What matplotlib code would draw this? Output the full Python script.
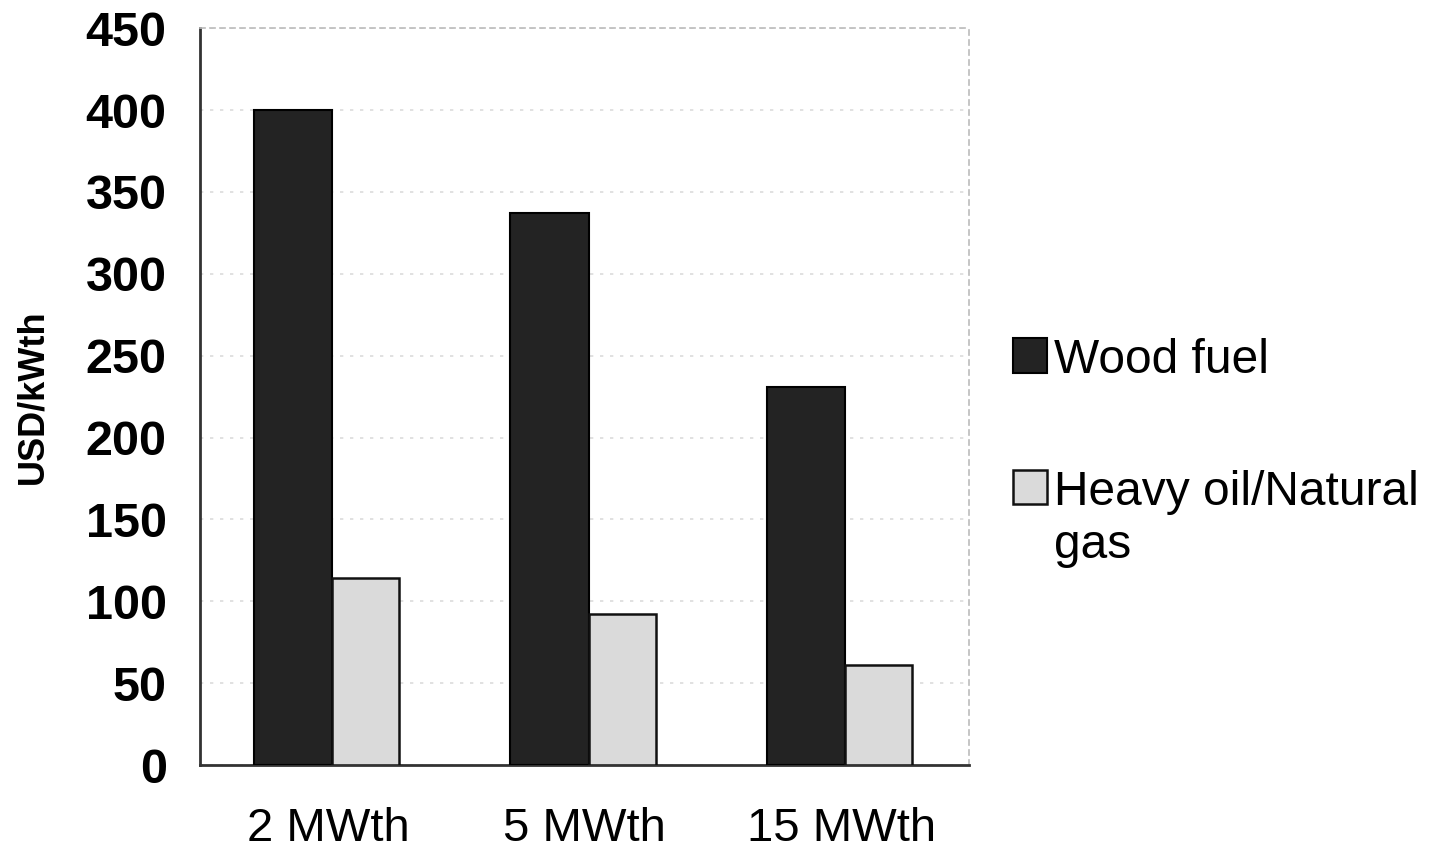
import matplotlib
matplotlib.use("Agg")
import matplotlib.pyplot as plt
import numpy as np

categories = ["2 MWth", "5 MWth", "15 MWth"]
wood_fuel = [400, 337, 231]
heavy_oil_gas = [114, 92, 61]
series_labels = ["Wood fuel", "Heavy oil/Natural\ngas"]
y_ticks = [0, 50, 100, 150, 200, 250, 300, 350, 400, 450]

plt.rcParams['font.family'] = ['Liberation Sans', 'DejaVu Sans']

fig = plt.figure(figsize=(14.3, 8.56), dpi=100)
ax = fig.add_axes([0.1399, 0.1063, 0.538, 0.8607])

x = np.arange(len(categories))
b1 = ax.bar(x - 0.29, wood_fuel, width=0.305, align="edge", color="#232323",
            edgecolor="#000000", linewidth=1.5, label=series_labels[0], zorder=3)
b2 = ax.bar(x + 0.015, heavy_oil_gas, width=0.262, align="edge", color="#dadada",
            edgecolor="#111111", linewidth=1.8, label=series_labels[1], zorder=3)

ax.set_xlim(-0.5, len(categories) - 0.5)
ax.set_ylim(0, 450)
ax.set_yticks(y_ticks)
ax.set_yticklabels([str(t) for t in y_ticks], fontsize=35, fontweight="bold")
ax.set_xticks(x)
ax.set_xticklabels(categories, fontsize=34)
ax.tick_params(axis="y", length=0, pad=24)
ax.tick_params(axis="x", length=0, pad=30)

ax.yaxis.grid(True, linestyle=(0, (2, 4)), color="#dcdcdc", linewidth=1.2, zorder=0)
ax.set_axisbelow(True)

ax.spines["left"].set_color("#333333")
ax.spines["left"].set_linewidth(2)
ax.spines["bottom"].set_color("#333333")
ax.spines["bottom"].set_linewidth(2)
for s in ("top", "right"):
    ax.spines[s].set_color("#bbbbbb")
    ax.spines[s].set_linestyle((0, (3, 3)))
    ax.spines[s].set_linewidth(1.2)

ax.set_ylabel("USD/kWth", fontsize=26, fontweight="bold")
ax.yaxis.set_label_coords(-0.195, 0.5)

leg = ax.legend(handles=[b1, b2], labels=series_labels, loc="center left",
                bbox_to_anchor=(1.0, 0.423), frameon=False, fontsize=34.5,
                handlelength=0.72, handleheight=0.72, handletextpad=0.15,
                labelspacing=1.8)
for t in leg.get_texts():
    t.set_linespacing(1.25)
try:
    for col in leg._legend_handle_box.get_children():
        for item in col.get_children():
            item.align = "top"
except Exception:
    pass

fig.savefig("out.png", dpi=100, facecolor="white")
